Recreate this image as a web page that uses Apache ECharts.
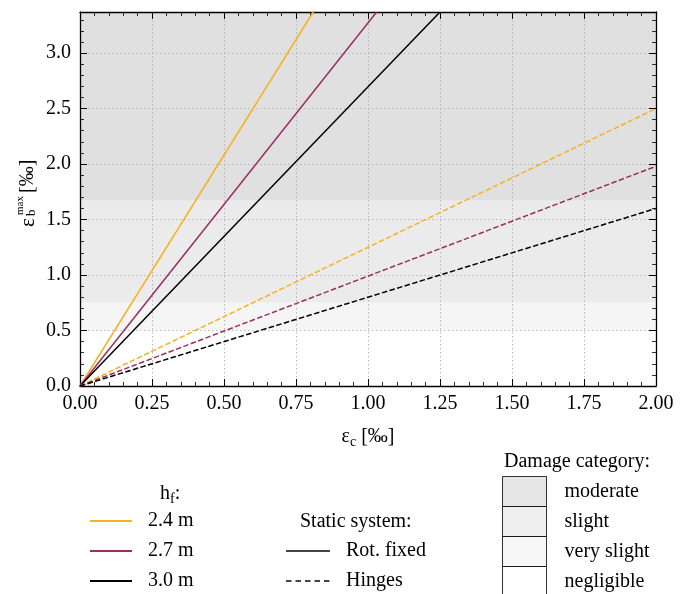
<!DOCTYPE html>
<html>
<head>
<meta charset="utf-8">
<script src="https://cdn.jsdelivr.net/npm/echarts@6/dist/echarts.min.js"></script>
<style>
html,body{margin:0;padding:0;background:#fff;}
#chart{width:688px;height:594px;}
</style>
</head>
<body>
<div id="chart"></div>
<script>
// ---- data ----
var heights = ['2.4 m', '2.7 m', '3.0 m'];
var lineColors = ['#f6b21f', '#9a2d64', '#000000'];
// Rot. fixed (solid) lines: end points where they leave the plot (x, y)
var fixedEndX = [0.81, 1.03, 1.25];
var fixedEndY = [3.37, 3.37, 3.37];
// Hinges (dashed) lines: end points at x = 2.00
var hingeEndX = [2.0, 2.0, 2.0];
var hingeEndY = [2.50, 1.98, 1.60];
var staticNames = ['Rot. fixed', 'Hinges'];
var damageNames = ['moderate', 'slight', 'very slight', 'negligible'];
var damageLower = [1.67, 0.75, 0.50, 0.00];
var damageUpper = [3.37, 1.67, 0.75, 0.50];
var damageColors = ['#e0e0e0', '#ebebeb', '#f5f5f5', '#ffffff'];
var xTicks = [0, 0.25, 0.5, 0.75, 1.0, 1.25, 1.5, 1.75, 2.0];
var yTicks = [0, 0.5, 1.0, 1.5, 2.0, 2.5, 3.0];

var FONT = "'Liberation Serif', 'Times New Roman', serif";
var chart = echarts.init(document.getElementById('chart'), null, {renderer: 'canvas'});

function axisCommon(showLabel, isX) {
  return {
    type: 'value',
    z: 10,
    min: isX ? xTicks[0] : yTicks[0],
    max: isX ? xTicks[xTicks.length - 1] : 3.37,
    interval: isX ? 0.25 : 0.5,
    axisLine: {show: true, onZero: false, lineStyle: {color: '#000', width: 1.3}},
    axisTick: {show: true, inside: true, length: 7, lineStyle: {color: '#000', width: 1}},
    minorTick: {show: true, splitNumber: 5, length: 4, lineStyle: {color: '#000', width: 0.8}},
    splitLine: {show: showLabel, lineStyle: {color: '#b0b0b0', type: [1.5, 2.5], width: 0.9}},
    axisLabel: {
      show: showLabel,
      showMaxLabel: isX ? true : false,
      color: '#000',
      fontFamily: FONT,
      fontSize: 20,
      margin: isX ? 8 : 9,
      formatter: function (v) { return isX ? v.toFixed(2) : v.toFixed(1); }
    }
  };
}

var series = [];
// damage category bands (drawn via markArea)
damageNames.forEach(function (n, i) {
  series.push({
    name: n, type: 'scatter', data: [], z: 1, silent: true,
    itemStyle: {color: damageColors[i]},
    markArea: {
      silent: true,
      itemStyle: {color: damageColors[i], opacity: 1, borderWidth: 0},
      data: [[{yAxis: damageLower[i]}, {yAxis: damageUpper[i]}]]
    }
  });
});
// Rot. fixed lines
heights.forEach(function (h, i) {
  series.push({
    name: h, type: 'line', symbol: 'none', silent: true, clip: true,
    data: [[0, 0], [fixedEndX[i], fixedEndY[i]]],
    itemStyle: {color: lineColors[i]},
    lineStyle: {color: lineColors[i], width: 1.5, type: 'solid'},
    z: 20
  });
});
// Hinges lines
heights.forEach(function (h, i) {
  series.push({
    name: h, type: 'line', symbol: 'none', silent: true, clip: true,
    data: [[0, 0], [hingeEndX[i], hingeEndY[i]]],
    itemStyle: {color: lineColors[i]},
    lineStyle: {color: lineColors[i], width: 1.5, type: [5.5, 2.4]},
    z: 20
  });
});
// Static system legend dummies
series.push({name: staticNames[0], type: 'line', symbol: 'none', data: [],
  itemStyle: {color: '#444'}, lineStyle: {color: '#444', width: 1.3, type: 'solid'}});
series.push({name: staticNames[1], type: 'line', symbol: 'none', data: [],
  itemStyle: {color: '#444'}, lineStyle: {color: '#444', width: 1.3, type: [5.5, 4]}});

var legendText = {color: '#000', fontFamily: FONT, fontSize: 20};

var legends = [
  {
    data: heights, orient: 'vertical', left: 89, top: 511, padding: 0,
    itemWidth: 42, itemHeight: 20, itemGap: 10, selectedMode: false,
    itemStyle: {opacity: 0},
    textStyle: Object.assign({padding: [0, 0, 0, 11]}, legendText)
  },
  {
    data: staticNames, orient: 'vertical', left: 285, top: 541, padding: 0,
    itemWidth: 44, itemHeight: 20, itemGap: 10, selectedMode: false,
    itemStyle: {opacity: 0},
    textStyle: Object.assign({padding: [0, 0, 0, 11]}, legendText)
  }
];
damageNames.forEach(function (n, i) {
  legends.push({
    data: [{name: n, icon: 'rect'}],
    orient: 'vertical', left: 502, top: 476 + 30 * i, padding: 0,
    itemWidth: 44, itemHeight: 30, itemGap: 0, selectedMode: false,
    itemStyle: {borderColor: '#000', borderWidth: 1},
    textStyle: Object.assign({padding: [0, 0, 0, 13]}, legendText)
  });
});

var option = {
  animation: false,
  backgroundColor: '#fff',
  grid: {left: 80, right: 32, top: 12, bottom: 208, containLabel: false},
  xAxis: [
    Object.assign(axisCommon(true, true), {
      position: 'bottom',
      name: '{e|ε}{s|c}{e| [‰]}',
      nameLocation: 'middle',
      nameGap: 38,
      nameTextStyle: {
        color: '#000', fontFamily: FONT, fontSize: 20,
        rich: {
          e: {fontFamily: FONT, fontSize: 20, color: '#000'},
          s: {fontFamily: FONT, fontSize: 14, color: '#000', padding: [11, 0, 0, 0]}
        }
      }
    }),
    Object.assign(axisCommon(false, true), {position: 'top'})
  ],
  yAxis: [
    Object.assign(axisCommon(true, false), {position: 'left'}),
    Object.assign(axisCommon(false, false), {position: 'right'})
  ],
  title: [
    {
      text: '{h|h}{s|f}{h|:}', left: 160, top: 481, padding: 0,
      textStyle: {
        fontWeight: 'normal',
        rich: {
          h: {fontFamily: FONT, fontSize: 20, fontWeight: 'normal', color: '#000'},
          s: {fontFamily: FONT, fontSize: 14, fontWeight: 'normal', color: '#000', padding: [11, 0, 0, 0]}
        }
      }
    },
    {text: 'Static system:', left: 300, top: 512, padding: 0,
      textStyle: {fontFamily: FONT, fontSize: 20, fontWeight: 'normal', color: '#000'}},
    {text: 'Damage category:', left: 504, top: 452, padding: 0,
      textStyle: {fontFamily: FONT, fontSize: 20, fontWeight: 'normal', color: '#000'}}
  ],
  legend: legends,
  graphic: [
    {
      type: 'group', x: 28, y: 227, rotation: Math.PI / 2, silent: true,
      children: [
        {type: 'text', x: 0, y: 0, style: {text: 'ε', fontFamily: FONT, fontSize: 21, fill: '#000', verticalAlign: 'middle', align: 'left'}},
        {type: 'text', x: 11, y: 4, style: {text: 'b', fontFamily: FONT, fontSize: 13, fill: '#000', verticalAlign: 'middle', align: 'left'}},
        {type: 'text', x: 12, y: -8, style: {text: 'max', fontFamily: FONT, fontSize: 11, fill: '#000', verticalAlign: 'middle', align: 'left'}},
        {type: 'text', x: 34, y: 0, style: {text: '[‰]', fontFamily: FONT, fontSize: 20, fill: '#000', verticalAlign: 'middle', align: 'left'}}
      ]
    }
  ],
  series: series
};
chart.setOption(option);
</script>
</body>
</html>
